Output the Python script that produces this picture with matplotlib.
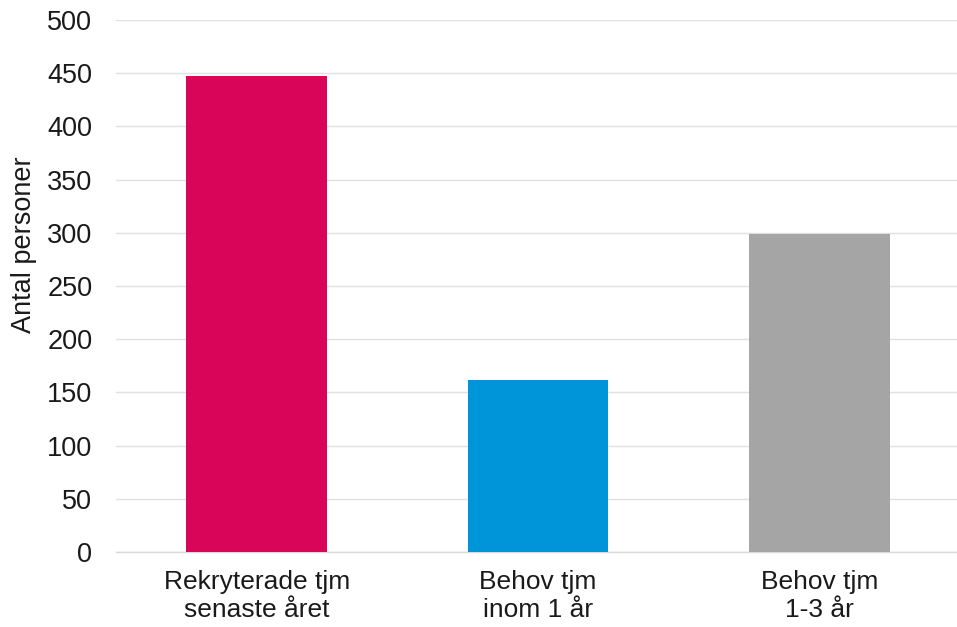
import matplotlib
matplotlib.use("Agg")
import matplotlib.pyplot as plt

categories = ["Rekryterade tjm\nsenaste året", "Behov tjm\ninom 1 år", "Behov tjm\n1-3 år"]
values = [447, 162, 299]
colors = ["#d90558", "#0095d9", "#a5a5a5"]
yticks = [0, 50, 100, 150, 200, 250, 300, 350, 400, 450, 500]

plt.rcParams['font.family'] = ['Liberation Sans', 'DejaVu Sans']
txt = "#1a1a1a"

fig = plt.figure(figsize=(9.57, 6.27), dpi=100)
ax = fig.add_axes([116/957, 1 - 552/627, 844/957, (552 - 20)/627])

x = range(len(categories))
ax.bar(x, values, width=0.5, color=colors, zorder=3)
ax.set_xlim(-0.5, 2.5)
ax.set_ylim(0, 500)
ax.set_yticks(yticks)
ax.set_yticklabels([str(t) for t in yticks], fontsize=19.5, color=txt)
ax.set_xticks(list(x))
ax.set_xticklabels(categories, fontsize=19, color=txt, linespacing=1.2)
ax.tick_params(axis='y', length=0, pad=17)
ax.tick_params(axis='x', length=0, pad=13)
ax.grid(axis='y', color="#e0e0e0", linewidth=1, zorder=0)
for s in ["top", "right", "left"]:
    ax.spines[s].set_visible(False)
ax.spines["bottom"].set_color("#d9d9d9")
ax.spines["bottom"].set_linewidth(1)
fig.text(24/957, 1 - 245/627, "Antal personer", fontsize=19.5, color=txt,
         rotation=90, ha="center", va="center")

fig.savefig("out.png", dpi=100)
